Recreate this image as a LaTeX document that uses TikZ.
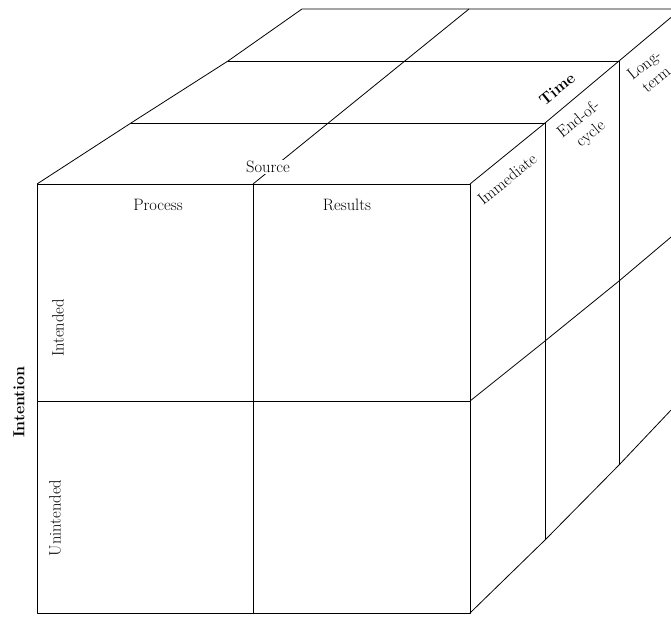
\documentclass[tikz,border=0pt]{standalone}
\usetikzlibrary{positioning}

\begin{document}
\begin{tikzpicture}[
    x=1pt,
    y=-1pt,
    every node/.style={font=\fontsize{16.5}{19}\selectfont},
    edge/.style={line width=0.8pt,line join=round},
    axis/.style={font=\fontsize{16}{19}\selectfont\bfseries},
    slab/.style={rotate=39,align=center,inner sep=1pt}
]
  \useasboundingbox (0,0) rectangle (671,616);
  \clip (0,0) rectangle (671,616);

  % front face
  \coordinate (ftl) at (37,184);
  \coordinate (ftr) at (470,184);
  \coordinate (fbl) at (37,613);
  \coordinate (fbr) at (470,613);
  \coordinate (fml) at (37,401);
  \coordinate (fmr) at (470,401);
  \coordinate (fmt) at (253,184);
  \coordinate (fmb) at (253,613);
  \draw[edge] (ftl) rectangle (fbr);
  \draw[edge] (fml) -- (fmr);
  \draw[edge] (fmt) -- (fmb);

  % top face
  \coordinate (t1) at (131,123);
  \coordinate (t2) at (228,61);
  \coordinate (t3) at (302,9);
  \coordinate (t4) at (700,9);
  \coordinate (r1) at (545,123);
  \coordinate (r2) at (619,61);
  \coordinate (r3) at (681,9);
  \coordinate (s3) at (469,9);
  \draw[edge] (ftl) -- (t1) -- (t2) -- (t3) -- (t4);
  \draw[edge] (t1) -- (r1);
  \draw[edge] (t2) -- (r2);
  \draw[edge] (fmt) -- (s3);
  \draw[edge] (ftr) -- (r1) -- (r2) -- (r3);

  % right face
  \coordinate (m1) at (545,341);
  \coordinate (m2) at (619,281);
  \coordinate (m3) at (690,221);
  \coordinate (b1) at (545,540);
  \coordinate (b2) at (619,465);
  \coordinate (b3) at (690,390);
  \draw[edge] (r1) -- (b1);
  \draw[edge] (r2) -- (b2);
  \draw[edge] (fmr) -- (m1) -- (m2) -- (m3);
  \draw[edge] (fbr) -- (b1) -- (b2) -- (b3);

  % labels
  \node[fill=white,inner sep=1pt] (src) at (268,167) {Source};
  \node (proc) at (158,205) {Process};
  \node (res) at (347,205) {Results};
  \node[rotate=90] (intd) at (58,328) {Intended};
  \node[rotate=90] (unintd) at (55,518) {Unintended};
  \node[axis,rotate=90] (intent) at (19,402) {Intention};
  \node[axis,rotate=39] (time) at (557,89) {Time};
  \node[slab] (imm) at (507,179) {Immediate};
  \node[slab] (eoc) at (585,127) {End-of-\\cycle};
  \node[slab] (lterm) at (650,72) {Long-\\term};
\end{tikzpicture}
\end{document}
